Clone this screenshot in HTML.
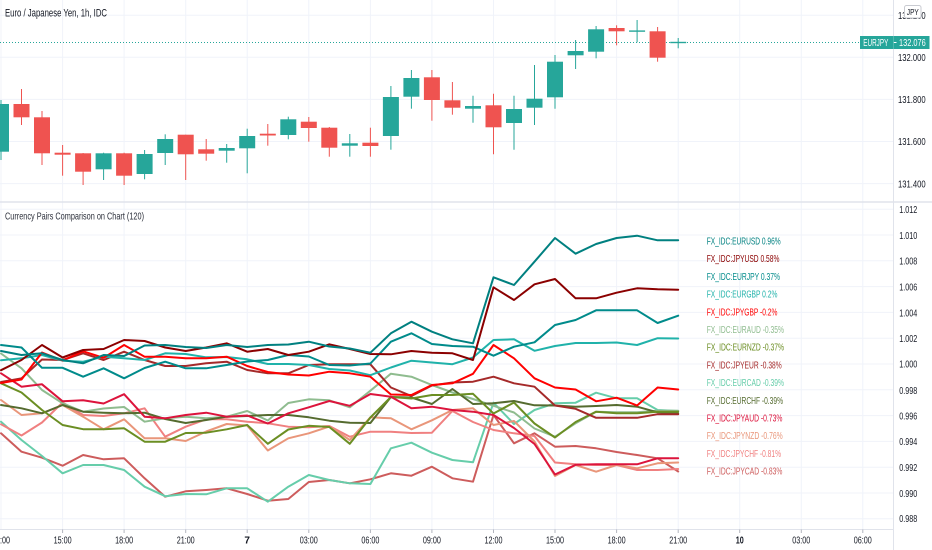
<!DOCTYPE html>
<html>
<head>
<meta charset="utf-8">
<style>
  html,body{margin:0;padding:0;background:#ffffff;}
  body{width:932px;height:550px;overflow:hidden;}
  svg{display:block;font-family:"Liberation Sans",Arial,sans-serif;}
</style>
</head>
<body>
<svg width="932" height="550" viewBox="0 0 932 550" xmlns="http://www.w3.org/2000/svg">
  <rect x="0" y="0" width="932" height="550" fill="#ffffff"/>

  <!-- grid: vertical -->
  <g stroke="#f0f3fa" stroke-width="1">
    <line x1="1" y1="0" x2="1" y2="529"/>
    <line x1="62.6" y1="0" x2="62.6" y2="529"/>
    <line x1="124.1" y1="0" x2="124.1" y2="529"/>
    <line x1="185.7" y1="0" x2="185.7" y2="529"/>
    <line x1="247.2" y1="0" x2="247.2" y2="529"/>
    <line x1="308.8" y1="0" x2="308.8" y2="529"/>
    <line x1="370.4" y1="0" x2="370.4" y2="529"/>
    <line x1="431.9" y1="0" x2="431.9" y2="529"/>
    <line x1="493.5" y1="0" x2="493.5" y2="529"/>
    <line x1="555" y1="0" x2="555" y2="529"/>
    <line x1="616.6" y1="0" x2="616.6" y2="529"/>
    <line x1="678.2" y1="0" x2="678.2" y2="529"/>
    <line x1="739.7" y1="0" x2="739.7" y2="529"/>
    <line x1="801.3" y1="0" x2="801.3" y2="529"/>
    <line x1="862.8" y1="0" x2="862.8" y2="529"/>
  </g>
  <!-- grid: horizontal top pane -->
  <g stroke="#f0f3fa" stroke-width="1">
    <line x1="0" y1="15.2" x2="893" y2="15.2"/>
    <line x1="0" y1="57.3" x2="893" y2="57.3"/>
    <line x1="0" y1="99.4" x2="893" y2="99.4"/>
    <line x1="0" y1="141.5" x2="893" y2="141.5"/>
    <line x1="0" y1="183.6" x2="893" y2="183.6"/>
  </g>
  <!-- grid: horizontal bottom pane -->
  <g stroke="#f0f3fa" stroke-width="1">
    <line x1="0" y1="209.2" x2="893" y2="209.2"/>
    <line x1="0" y1="235" x2="893" y2="235"/>
    <line x1="0" y1="260.8" x2="893" y2="260.8"/>
    <line x1="0" y1="286.6" x2="893" y2="286.6"/>
    <line x1="0" y1="312.4" x2="893" y2="312.4"/>
    <line x1="0" y1="338.2" x2="893" y2="338.2"/>
    <line x1="0" y1="364" x2="893" y2="364"/>
    <line x1="0" y1="389.8" x2="893" y2="389.8"/>
    <line x1="0" y1="415.6" x2="893" y2="415.6"/>
    <line x1="0" y1="441.4" x2="893" y2="441.4"/>
    <line x1="0" y1="467.2" x2="893" y2="467.2"/>
    <line x1="0" y1="493" x2="893" y2="493"/>
    <line x1="0" y1="518.8" x2="893" y2="518.8"/>
  </g>

  <!-- last price dotted line -->
  <line x1="0" y1="42.5" x2="860" y2="42.5" stroke="#26a69a" stroke-width="1" stroke-dasharray="1 2"/>

  <!-- candles: wicks -->
  <g stroke-width="1">
    <line x1="1" y1="100" x2="1" y2="160" stroke="#26a69a"/>
    <line x1="21.5" y1="89" x2="21.5" y2="125" stroke="#ef5350"/>
    <line x1="42" y1="111" x2="42" y2="165" stroke="#ef5350"/>
    <line x1="62.6" y1="145" x2="62.6" y2="175.7" stroke="#ef5350"/>
    <line x1="83.1" y1="153" x2="83.1" y2="185" stroke="#ef5350"/>
    <line x1="103.6" y1="152.7" x2="103.6" y2="180" stroke="#26a69a"/>
    <line x1="124.1" y1="152.7" x2="124.1" y2="185" stroke="#ef5350"/>
    <line x1="144.6" y1="150" x2="144.6" y2="179.3" stroke="#26a69a"/>
    <line x1="165.2" y1="134.3" x2="165.2" y2="165" stroke="#26a69a"/>
    <line x1="185.7" y1="134.7" x2="185.7" y2="180" stroke="#ef5350"/>
    <line x1="206.2" y1="139" x2="206.2" y2="160.7" stroke="#ef5350"/>
    <line x1="226.7" y1="144" x2="226.7" y2="162.7" stroke="#26a69a"/>
    <line x1="247.2" y1="128.7" x2="247.2" y2="173.3" stroke="#26a69a"/>
    <line x1="267.8" y1="124" x2="267.8" y2="145.7" stroke="#ef5350"/>
    <line x1="288.3" y1="116.7" x2="288.3" y2="139.3" stroke="#26a69a"/>
    <line x1="308.8" y1="117" x2="308.8" y2="141.7" stroke="#ef5350"/>
    <line x1="329.3" y1="127" x2="329.3" y2="156.7" stroke="#ef5350"/>
    <line x1="349.8" y1="134" x2="349.8" y2="156.7" stroke="#26a69a"/>
    <line x1="370.4" y1="127.7" x2="370.4" y2="156.7" stroke="#ef5350"/>
    <line x1="390.9" y1="86" x2="390.9" y2="149.7" stroke="#26a69a"/>
    <line x1="411.4" y1="70" x2="411.4" y2="108.7" stroke="#26a69a"/>
    <line x1="431.9" y1="70" x2="431.9" y2="120.7" stroke="#ef5350"/>
    <line x1="452.4" y1="82" x2="452.4" y2="114.7" stroke="#ef5350"/>
    <line x1="473" y1="95.7" x2="473" y2="122.7" stroke="#26a69a"/>
    <line x1="493.5" y1="93.7" x2="493.5" y2="154.3" stroke="#ef5350"/>
    <line x1="514" y1="95.7" x2="514" y2="149.7" stroke="#26a69a"/>
    <line x1="534.5" y1="65" x2="534.5" y2="125" stroke="#26a69a"/>
    <line x1="555" y1="55" x2="555" y2="108.7" stroke="#26a69a"/>
    <line x1="575.6" y1="40" x2="575.6" y2="69" stroke="#26a69a"/>
    <line x1="596.1" y1="26" x2="596.1" y2="58.3" stroke="#26a69a"/>
    <line x1="616.6" y1="25.3" x2="616.6" y2="45.3" stroke="#ef5350"/>
    <line x1="637.1" y1="20" x2="637.1" y2="42.3" stroke="#26a69a"/>
    <line x1="657.6" y1="27" x2="657.6" y2="61.7" stroke="#ef5350"/>
    <line x1="678.2" y1="38" x2="678.2" y2="48.3" stroke="#26a69a"/>
  </g>
  <!-- candles: bodies -->
  <g>
    <rect x="-7" y="104" width="16" height="47.7" fill="#26a69a"/>
    <rect x="13.5" y="104" width="16" height="13.3" fill="#ef5350"/>
    <rect x="34" y="117.3" width="16" height="36" fill="#ef5350"/>
    <rect x="54.6" y="152.7" width="16" height="2" fill="#ef5350"/>
    <rect x="75.1" y="153.3" width="16" height="18.4" fill="#ef5350"/>
    <rect x="95.6" y="153.3" width="16" height="16" fill="#26a69a"/>
    <rect x="116.1" y="153.3" width="16" height="22.4" fill="#ef5350"/>
    <rect x="136.6" y="154" width="16" height="20" fill="#26a69a"/>
    <rect x="157.2" y="139" width="16" height="14" fill="#26a69a"/>
    <rect x="177.7" y="134.7" width="16" height="19.6" fill="#ef5350"/>
    <rect x="198.2" y="149.3" width="16" height="4.4" fill="#ef5350"/>
    <rect x="218.7" y="148" width="16" height="2.7" fill="#26a69a"/>
    <rect x="239.2" y="136" width="16" height="12.3" fill="#26a69a"/>
    <rect x="259.8" y="133.7" width="16" height="1.8" fill="#ef5350"/>
    <rect x="280.3" y="119.3" width="16" height="15.7" fill="#26a69a"/>
    <rect x="300.8" y="121.7" width="16" height="6.3" fill="#ef5350"/>
    <rect x="321.3" y="127.7" width="16" height="20" fill="#ef5350"/>
    <rect x="341.8" y="143.3" width="16" height="2.4" fill="#26a69a"/>
    <rect x="362.4" y="142.7" width="16" height="3.3" fill="#ef5350"/>
    <rect x="382.9" y="97" width="16" height="39" fill="#26a69a"/>
    <rect x="403.4" y="78" width="16" height="18.7" fill="#26a69a"/>
    <rect x="423.9" y="77.3" width="16" height="22.7" fill="#ef5350"/>
    <rect x="444.4" y="100.3" width="16" height="7.4" fill="#ef5350"/>
    <rect x="465" y="106" width="16" height="2.7" fill="#26a69a"/>
    <rect x="485.5" y="105.3" width="16" height="22" fill="#ef5350"/>
    <rect x="506" y="109" width="16" height="14" fill="#26a69a"/>
    <rect x="526.5" y="98.7" width="16" height="9" fill="#26a69a"/>
    <rect x="547" y="61.7" width="16" height="35.6" fill="#26a69a"/>
    <rect x="567.6" y="51" width="16" height="4.3" fill="#26a69a"/>
    <rect x="588.1" y="29.3" width="16" height="22.4" fill="#26a69a"/>
    <rect x="608.6" y="28" width="16" height="3.3" fill="#ef5350"/>
    <rect x="629.1" y="30.4" width="16" height="1.4" fill="#26a69a"/>
    <rect x="649.6" y="31.3" width="16" height="26.4" fill="#ef5350"/>
    <rect x="670.2" y="41.8" width="16" height="1.4" fill="#26a69a"/>
  </g>

  <!-- comparison lines -->
  <g fill="none" stroke-width="2" stroke-linejoin="round" stroke-linecap="round">
    <polyline stroke="#cd5c5c" points="1,433.3 21.5,451.7 42,457.7 62.6,465.7 83.1,455 103.6,459.3 124.1,458.3 144.6,478.3 165.2,496.7 185.7,491.3 206.2,490 226.7,488.3 247.2,494 267.8,500.7 288.3,499 308.8,482 329.3,480 349.8,483.3 370.4,479.3 390.9,473.3 411.4,475.7 431.9,466.7 452.4,478.3 473,481.7 493.5,415 514,443.3 534.5,433.3 555,446.7 575.6,446 596.1,448.3 616.6,452 637.1,455 657.6,458.3 678.2,471.5"/>
    <polyline stroke="#66cdaa" points="1,421.7 21.5,440 42,456 62.6,473.3 83.1,465 103.6,465 124.1,470 144.6,486.7 165.2,496.2 185.7,494 206.2,494.3 226.7,488.3 247.2,488.3 267.8,501.7 288.3,486.7 308.8,475 329.3,480 349.8,483.3 370.4,484 390.9,448.3 411.4,442.7 431.9,452.7 452.4,460 473,462.3 493.5,402.7 514,424 534.5,410 555,403.3 575.6,402.7 596.1,392.7 616.6,398.3 637.1,398.3 657.6,410 678.2,411"/>
    <polyline stroke="#f08080" points="1,424.3 21.5,435.5 42,422.5 62.6,402.5 83.1,415 103.6,416 124.1,413.3 144.6,408.3 165.2,436.7 185.7,426.7 206.2,419.3 226.7,419.3 247.2,421.7 267.8,423.3 288.3,426.7 308.8,427.3 329.3,426 349.8,436.7 370.4,431.7 390.9,431.7 411.4,433 431.9,432.7 452.4,411 473,422 493.5,430 514,433.3 534.5,436 555,462.5 575.6,464.3 596.1,465 616.6,465 637.1,470 657.6,470 678.2,469"/>
    <polyline stroke="#e9967a" points="1,400 21.5,415 42,413.3 62.6,405 83.1,416.7 103.6,429.3 124.1,419.3 144.6,438.3 165.2,438.3 185.7,441 206.2,431.5 226.7,424 247.2,425.5 267.8,450.5 288.3,438.3 308.8,433.3 329.3,426.5 349.8,440 370.4,417.3 390.9,418.3 411.4,429.3 431.9,420.3 452.4,410 473,408.3 493.5,425 514,421 534.5,441.5 555,476 575.6,465 596.1,471.7 616.6,465 637.1,468.3 657.6,463.3 678.2,462.5"/>
    <polyline stroke="#8fbc8f" points="1,353.5 21.5,368.3 42,390 62.6,403.3 83.1,411.7 103.6,408.5 124.1,407 144.6,421.7 165.2,418.3 185.7,416.7 206.2,418.3 226.7,416.7 247.2,411 267.8,420.5 288.3,403 308.8,399.3 329.3,400.3 349.8,407.3 370.4,390.7 390.9,373.7 411.4,376.7 431.9,385 452.4,392.5 473,399 493.5,405.8 514,412.5 534.5,428.5 555,436.7 575.6,423.3 596.1,411.7 616.6,412.3 637.1,412.3 657.6,410.7 678.2,410.7"/>
    <polyline stroke="#556b2f" points="1,405 21.5,408.3 42,413.3 62.6,405 83.1,411.7 103.6,412.7 124.1,413.3 144.6,412.7 165.2,419 185.7,423 206.2,420 226.7,416.7 247.2,416 267.8,415 288.3,415 308.8,417.3 329.3,420.7 349.8,422.7 370.4,423 390.9,397 411.4,397.5 431.9,404 452.4,389 473,404 493.5,403.3 514,401 534.5,405.3 555,405.5 575.6,406.7 596.1,406 616.6,405 637.1,406.7 657.6,412.3 678.2,413.5"/>
    <polyline stroke="#6b8e23" points="1,383.3 21.5,392.5 42,410 62.6,425 83.1,429.2 103.6,429.3 124.1,428.3 144.6,441.7 165.2,441.7 185.7,433 206.2,432.7 226.7,429.3 247.2,425 267.8,443.8 288.3,429.5 308.8,425.8 329.3,427 349.8,443.8 370.4,417.5 390.9,397 411.4,398.5 431.9,395 452.4,395 473,393.8 493.5,413.5 514,402.5 534.5,423.5 555,437.5 575.6,422 596.1,411.7 616.6,413.3 637.1,413.3 657.6,411.7 678.2,411.7"/>
    <polyline stroke="#dc143c" points="1,373.3 21.5,386.7 42,384.3 62.6,401.3 83.1,400.3 103.6,403.5 124.1,394.2 144.6,416.7 165.2,418.3 185.7,415 206.2,412.7 226.7,416.7 247.2,415.5 267.8,423.5 288.3,413.3 308.8,407.3 329.3,401 349.8,405.8 370.4,394 390.9,396.7 411.4,408.3 431.9,406.7 452.4,410 473,411.7 493.5,415 514,428 534.5,444 555,474.5 575.6,464.8 596.1,464.3 616.6,464.3 637.1,464.3 657.6,458.3 678.2,458.3"/>
    <polyline stroke="#a52a2a" points="1,382 21.5,378.3 42,359.5 62.6,360 83.1,353.3 103.6,360 124.1,351.7 144.6,360 165.2,366 185.7,366 206.2,363.3 226.7,361.7 247.2,370 267.8,373.3 288.3,373.3 308.8,365 329.3,364.3 349.8,364.3 370.4,364.3 390.9,387.5 411.4,396 431.9,385.5 452.4,382.5 473,381.7 493.5,376.7 514,383.3 534.5,386.7 555,405.5 575.6,408.8 596.1,417.8 616.6,417.8 637.1,417.8 657.6,414.2 678.2,414.2"/>
    <polyline stroke="#20b2aa" points="1,360.3 21.5,358.3 42,355 62.6,360.7 83.1,361.7 103.6,356.7 124.1,358.3 144.6,360 165.2,353.3 185.7,354 206.2,357.3 226.7,357 247.2,359.3 267.8,364 288.3,364 308.8,365 329.3,369 349.8,370.5 370.4,375.2 390.9,367.5 411.4,360.7 431.9,362.5 452.4,364.2 473,357.5 493.5,340 514,339.3 534.5,350.8 555,346 575.6,343 596.1,343 616.6,342.5 637.1,345 657.6,338.2 678.2,338.5"/>
    <polyline stroke="#ff0000" points="1,383 21.5,379.5 42,352.5 62.6,360.5 83.1,351.3 103.6,357.8 124.1,345 144.6,356.7 165.2,356.7 185.7,358.3 206.2,358.3 226.7,356.7 247.2,366 267.8,372 288.3,374.5 308.8,375.5 329.3,371.7 349.8,373.3 370.4,376.7 390.9,394.5 411.4,395 431.9,385 452.4,383.3 473,373.8 493.5,345 514,358.3 534.5,378.3 555,387.5 575.6,389.5 596.1,401.3 616.6,397.7 637.1,405.5 657.6,387.5 678.2,389.5"/>
    <polyline stroke="#008b8b" points="1,345 21.5,347.5 42,367.8 62.6,367.8 83.1,376.7 103.6,368.3 124.1,378.3 144.6,368 165.2,361.7 185.7,368.3 206.2,368.3 226.7,365 247.2,361.5 267.8,360 288.3,355 308.8,356.5 329.3,365 349.8,365.5 370.4,363.5 390.9,341.7 411.4,333.3 431.9,344 452.4,346 473,346.7 493.5,355.7 514,346.7 534.5,342.3 555,325 575.6,320 596.1,310.3 616.6,310.3 637.1,310.3 657.6,323 678.2,315.7"/>
    <polyline stroke="#8b0000" points="1,370.2 21.5,360 42,345 62.6,357.5 83.1,350 103.6,349 124.1,340 144.6,341 165.2,347.5 185.7,351 206.2,347.5 226.7,343.3 247.2,351.7 267.8,349 288.3,355 308.8,351.7 329.3,344.3 349.8,349 370.4,354 390.9,354.3 411.4,351 431.9,352.7 452.4,353.3 473,360 493.5,287.3 514,300 534.5,284.3 555,279 575.6,298.3 596.1,298.3 616.6,292.7 637.1,288.3 657.6,289.3 678.2,289.7"/>
    <polyline stroke="#008080" points="1,351 21.5,355 42,353.3 62.6,360 83.1,363.3 103.6,355 124.1,356 144.6,345.5 165.2,345 185.7,347 206.2,348 226.7,345 247.2,347 267.8,345 288.3,344.5 308.8,341.7 329.3,346.5 349.8,348.5 370.4,352.7 390.9,333.3 411.4,321.7 431.9,331.7 452.4,339.3 473,343.3 493.5,277.3 514,285 534.5,261.7 555,238 575.6,253.7 596.1,244 616.6,238 637.1,235.7 657.6,240.3 678.2,240.3"/>
  </g>

  <!-- legend labels -->
  <g font-size="10">
    <text x="706.7" y="244.5" fill="#008080" textLength="74" lengthAdjust="spacingAndGlyphs">FX_IDC:EURUSD 0.96%</text>
    <text x="706.7" y="262.2" fill="#8b0000" textLength="72.7" lengthAdjust="spacingAndGlyphs">FX_IDC:JPYUSD 0.58%</text>
    <text x="706.7" y="279.9" fill="#008b8b" textLength="73.3" lengthAdjust="spacingAndGlyphs">FX_IDC:EURJPY 0.37%</text>
    <text x="706.7" y="297.6" fill="#20b2aa" textLength="70.7" lengthAdjust="spacingAndGlyphs">FX_IDC:EURGBP 0.2%</text>
    <text x="706.7" y="315.3" fill="#ff0000" textLength="70.7" lengthAdjust="spacingAndGlyphs">FX_IDC:JPYGBP -0.2%</text>
    <text x="706.7" y="333" fill="#8fbc8f" textLength="77.3" lengthAdjust="spacingAndGlyphs">FX_IDC:EURAUD -0.35%</text>
    <text x="706.7" y="350.7" fill="#6b8e23" textLength="77.3" lengthAdjust="spacingAndGlyphs">FX_IDC:EURNZD -0.37%</text>
    <text x="706.7" y="368.4" fill="#a52a2a" textLength="75" lengthAdjust="spacingAndGlyphs">FX_IDC:JPYEUR -0.38%</text>
    <text x="706.7" y="386.1" fill="#66cdaa" textLength="77.3" lengthAdjust="spacingAndGlyphs">FX_IDC:EURCAD -0.39%</text>
    <text x="706.7" y="403.8" fill="#556b2f" textLength="76.3" lengthAdjust="spacingAndGlyphs">FX_IDC:EURCHF -0.39%</text>
    <text x="706.7" y="421.5" fill="#dc143c" textLength="75.7" lengthAdjust="spacingAndGlyphs">FX_IDC:JPYAUD -0.73%</text>
    <text x="706.7" y="439.2" fill="#e9967a" textLength="76" lengthAdjust="spacingAndGlyphs">FX_IDC:JPYNZD -0.76%</text>
    <text x="706.7" y="456.9" fill="#f08080" textLength="74.3" lengthAdjust="spacingAndGlyphs">FX_IDC:JPYCHF -0.81%</text>
    <text x="706.7" y="474.6" fill="#cd5c5c" textLength="75.7" lengthAdjust="spacingAndGlyphs">FX_IDC:JPYCAD -0.83%</text>
  </g>

  <!-- titles -->
  <text x="5" y="16.5" font-size="10.8" fill="#131722" textLength="102" lengthAdjust="spacingAndGlyphs">Euro / Japanese Yen, 1h, IDC</text>
  <text x="5" y="219.6" font-size="10.3" fill="#2a2e39" textLength="139" lengthAdjust="spacingAndGlyphs">Currency Pairs Comparison on Chart (120)</text>

  <!-- structure lines -->
  <line x1="0" y1="202" x2="932" y2="202" stroke="#e0e3eb" stroke-width="1.5"/>
  <line x1="893.5" y1="0" x2="893.5" y2="550" stroke="#e0e3eb" stroke-width="1"/>
  <line x1="0" y1="529.5" x2="893.5" y2="529.5" stroke="#e0e3eb" stroke-width="1"/>

  <!-- time ticks -->
  <g stroke="#b2b5be" stroke-width="1">
    <line x1="62.6" y1="529.5" x2="62.6" y2="533"/>
    <line x1="124.1" y1="529.5" x2="124.1" y2="533"/>
    <line x1="185.7" y1="529.5" x2="185.7" y2="533"/>
    <line x1="247.2" y1="529.5" x2="247.2" y2="533"/>
    <line x1="308.8" y1="529.5" x2="308.8" y2="533"/>
    <line x1="370.4" y1="529.5" x2="370.4" y2="533"/>
    <line x1="431.9" y1="529.5" x2="431.9" y2="533"/>
    <line x1="493.5" y1="529.5" x2="493.5" y2="533"/>
    <line x1="555" y1="529.5" x2="555" y2="533"/>
    <line x1="616.6" y1="529.5" x2="616.6" y2="533"/>
    <line x1="678.2" y1="529.5" x2="678.2" y2="533"/>
    <line x1="739.7" y1="529.5" x2="739.7" y2="533"/>
    <line x1="801.3" y1="529.5" x2="801.3" y2="533"/>
    <line x1="862.8" y1="529.5" x2="862.8" y2="533"/>
  </g>

  <!-- time labels -->
  <g font-size="10" fill="#131722" text-anchor="middle">
    <text x="1" y="543.5" textLength="18" lengthAdjust="spacingAndGlyphs">12:00</text>
    <text x="62.6" y="543.5" textLength="18" lengthAdjust="spacingAndGlyphs">15:00</text>
    <text x="124.1" y="543.5" textLength="18" lengthAdjust="spacingAndGlyphs">18:00</text>
    <text x="185.7" y="543.5" textLength="18" lengthAdjust="spacingAndGlyphs">21:00</text>
    <text x="247.2" y="543.5" font-weight="bold">7</text>
    <text x="308.8" y="543.5" textLength="18" lengthAdjust="spacingAndGlyphs">03:00</text>
    <text x="370.4" y="543.5" textLength="18" lengthAdjust="spacingAndGlyphs">06:00</text>
    <text x="431.9" y="543.5" textLength="18" lengthAdjust="spacingAndGlyphs">09:00</text>
    <text x="493.5" y="543.5" textLength="18" lengthAdjust="spacingAndGlyphs">12:00</text>
    <text x="555" y="543.5" textLength="18" lengthAdjust="spacingAndGlyphs">15:00</text>
    <text x="616.6" y="543.5" textLength="18" lengthAdjust="spacingAndGlyphs">18:00</text>
    <text x="678.2" y="543.5" textLength="18" lengthAdjust="spacingAndGlyphs">21:00</text>
    <text x="739.7" y="543.5" font-weight="bold" textLength="8" lengthAdjust="spacingAndGlyphs">10</text>
    <text x="801.3" y="543.5" textLength="18" lengthAdjust="spacingAndGlyphs">03:00</text>
    <text x="862.8" y="543.5" textLength="18" lengthAdjust="spacingAndGlyphs">06:00</text>
  </g>

  <!-- price axis labels top -->
  <g font-size="10.5" fill="#131722">
    <text x="898" y="18.9" textLength="27.7" lengthAdjust="spacingAndGlyphs">132.200</text>
    <text x="898" y="61" textLength="27.7" lengthAdjust="spacingAndGlyphs">132.000</text>
    <text x="898" y="103.1" textLength="27.7" lengthAdjust="spacingAndGlyphs">131.800</text>
    <text x="898" y="145.2" textLength="27.7" lengthAdjust="spacingAndGlyphs">131.600</text>
    <text x="898" y="187.3" textLength="27.7" lengthAdjust="spacingAndGlyphs">131.400</text>
  </g>
  <!-- JPY box -->
  <rect x="904.5" y="5.5" width="16.5" height="12.5" rx="2" fill="#ffffff" stroke="#c9cbd1" stroke-width="1"/>
  <text x="912.8" y="15" font-size="8.5" fill="#131722" text-anchor="middle" textLength="12" lengthAdjust="spacingAndGlyphs">JPY</text>

  <!-- EURJPY last price label -->
  <rect x="860" y="36" width="69.5" height="13" fill="#26a69a"/>
  <line x1="893.5" y1="36" x2="893.5" y2="49" stroke="#5bbdb3" stroke-width="0.8"/>
  <line x1="893.8" y1="42.5" x2="896.5" y2="42.5" stroke="#ffffff" stroke-width="1"/>
  <text x="863.3" y="45.9" font-size="9.8" fill="#ffffff" textLength="25" lengthAdjust="spacingAndGlyphs">EURJPY</text>
  <text x="899" y="46" font-size="10.3" fill="#ffffff" textLength="26.7" lengthAdjust="spacingAndGlyphs">132.076</text>

  <!-- price axis labels bottom -->
  <g font-size="10" fill="#131722">
    <text x="899.3" y="212.8" textLength="18" lengthAdjust="spacingAndGlyphs">1.012</text>
    <text x="899.3" y="239.1" textLength="18" lengthAdjust="spacingAndGlyphs">1.010</text>
    <text x="899.3" y="264.5" textLength="18" lengthAdjust="spacingAndGlyphs">1.008</text>
    <text x="899.3" y="290.4" textLength="18" lengthAdjust="spacingAndGlyphs">1.006</text>
    <text x="899.3" y="316.4" textLength="18" lengthAdjust="spacingAndGlyphs">1.004</text>
    <text x="899.3" y="342.1" textLength="18" lengthAdjust="spacingAndGlyphs">1.002</text>
    <text x="899.3" y="367.5" textLength="18" lengthAdjust="spacingAndGlyphs">1.000</text>
    <text x="899.3" y="394.1" textLength="18" lengthAdjust="spacingAndGlyphs">0.998</text>
    <text x="899.3" y="419.5" textLength="18" lengthAdjust="spacingAndGlyphs">0.996</text>
    <text x="899.3" y="445.1" textLength="18" lengthAdjust="spacingAndGlyphs">0.994</text>
    <text x="899.3" y="471.1" textLength="18" lengthAdjust="spacingAndGlyphs">0.992</text>
    <text x="899.3" y="496.8" textLength="18" lengthAdjust="spacingAndGlyphs">0.990</text>
    <text x="899.3" y="522.2" textLength="18" lengthAdjust="spacingAndGlyphs">0.988</text>
  </g>
</svg>
</body>
</html>
